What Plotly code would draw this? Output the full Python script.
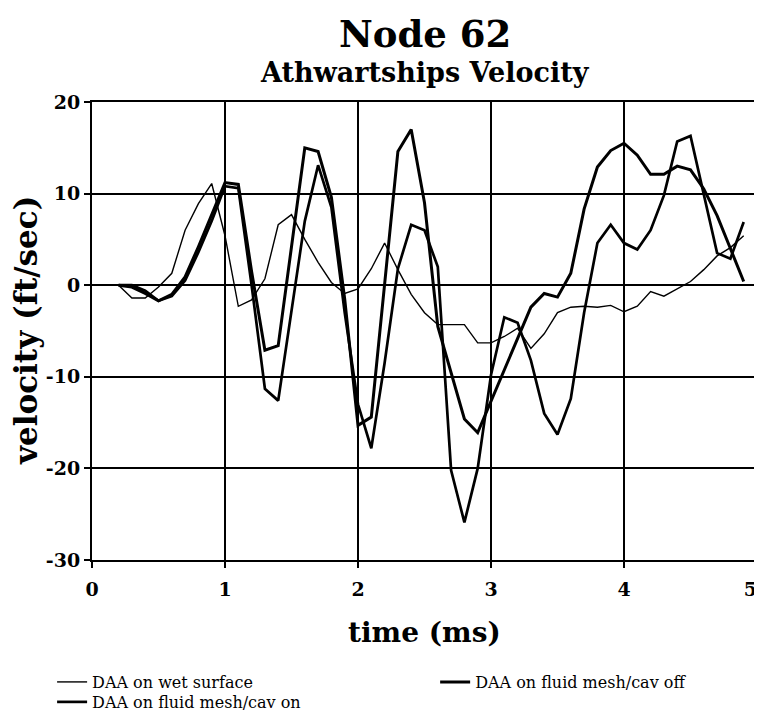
import plotly.graph_objects as go

time_ms = [0.2, 0.3, 0.4, 0.5, 0.6, 0.7, 0.8, 0.9, 1.0, 1.1, 1.2, 1.3, 1.4, 1.5, 1.6, 1.7,
           1.8, 1.9, 2.0, 2.1, 2.2, 2.3, 2.4, 2.5, 2.6, 2.7, 2.8, 2.9, 3.0, 3.1, 3.2, 3.3,
           3.4, 3.5, 3.6, 3.7, 3.8, 3.9, 4.0, 4.1, 4.2, 4.3, 4.4, 4.5, 4.6, 4.7, 4.8, 4.9]

wet_surface = [0.0, -1.4, -1.4, -0.2, 1.3, 6.0, 8.9, 11.1, 5.4, -2.3, -1.6, 0.7, 6.6, 7.7, 5.0, 2.5,
               0.3, -0.9, -0.4, 1.8, 4.6, 1.7, -1.0, -3.0, -4.3, -4.3, -4.3, -6.3, -6.3, -5.6, -4.7, -6.9,
               -5.3, -3.0, -2.4, -2.3, -2.4, -2.2, -2.9, -2.3, -0.7, -1.2, -0.4, 0.4, 1.7, 3.2, 4.1, 5.4]

cav_off = [0.0, -0.2, -0.9, -1.7, -1.0, 0.9, 4.2, 7.8, 11.2, 11.0, 1.5, -7.1, -6.6, 4.2, 15.0, 14.6,
           9.6, -1.5, -15.3, -14.4, 0.0, 14.6, 17.0, 9.0, -4.5, -9.6, -14.6, -16.1, -12.7, -9.2, -5.8, -2.4,
           -0.9, -1.3, 1.3, 8.3, 12.9, 14.7, 15.5, 14.2, 12.1, 12.1, 13.0, 12.6, 10.5, 7.6, 4.0, 0.4]

cav_on = [0.0, 0.0, -0.6, -1.7, -1.2, 0.5, 3.6, 7.0, 10.8, 10.6, 0.0, -11.3, -12.6, -3.0, 7.0, 13.1,
          8.5, -3.0, -13.0, -17.8, -8.5, 1.8, 6.6, 6.0, 2.0, -20.2, -25.9, -20.0, -9.8, -3.5, -4.1, -8.2,
          -14.0, -16.3, -12.4, -3.0, 4.6, 6.6, 4.6, 3.9, 6.0, 9.8, 15.7, 16.3, 10.0, 3.5, 2.9, 6.9]

x_ticks = [0, 1, 2, 3, 4, 5]
x_tick_labels = ["0", "1", "2", "3", "4", "5\u00a0\u00a0"]
y_ticks = [-30, -20, -10, 0, 10, 20]

SERIF = "DejaVu Serif, Liberation Serif, serif"
LEG_FONT = dict(family=SERIF, size=16, color="black")

fig = go.Figure()
fig.add_trace(go.Scatter(x=time_ms, y=wet_surface, mode="lines", name="DAA on wet surface",
                         line=dict(color="black", width=1.4), legend="legend"))
fig.add_trace(go.Scatter(x=time_ms, y=cav_off, mode="lines", name="DAA on fluid mesh/cav off",
                         line=dict(color="black", width=3), legend="legend2"))
fig.add_trace(go.Scatter(x=time_ms, y=cav_on, mode="lines", name="DAA on fluid mesh/cav on",
                         line=dict(color="black", width=2.7), legend="legend3"))

axis_common = dict(showgrid=True, gridcolor="black", gridwidth=1.5,
                   showline=True, linecolor="black", linewidth=2, mirror=True,
                   ticks="outside", ticklen=6, tickcolor="black", tickwidth=1.5,
                   ticklabeloverflow="allow",
                   tickfont=dict(family=SERIF, size=19, color="black"), zeroline=False)

leg_common = dict(orientation="v", xanchor="left", yanchor="middle", font=LEG_FONT,
                  tracegroupgap=0, bgcolor="rgba(0,0,0,0)", borderwidth=0)

fig.update_layout(
    width=754, height=703,
    margin=dict(l=84, r=5, t=94, b=151, autoexpand=False),
    paper_bgcolor="white", plot_bgcolor="white",
    font=dict(family=SERIF, color="black"),
    showlegend=True,
    legend=dict(x=-0.060, y=-0.2664, **leg_common),
    legend2=dict(x=0.516, y=-0.2664, **leg_common),
    legend3=dict(x=-0.060, y=-0.3100, **leg_common),
    xaxis=dict(range=[0, 5], tickvals=x_ticks, ticktext=["<b>%s</b>" % t for t in x_tick_labels],
               ticklabelstandoff=5, **axis_common),
    yaxis=dict(range=[-30, 20], tickvals=y_ticks, ticktext=["<b>%d</b>" % v for v in y_ticks],
               **axis_common),
    annotations=[
        dict(text="<b>Node 62</b>", xref="paper", yref="paper", x=0.5, y=1,
             xanchor="center", yanchor="middle", yshift=68, showarrow=False,
             font=dict(family=SERIF, size=37, color="black")),
        dict(text="<b>Athwartships Velocity</b>", xref="paper", yref="paper", x=0.5, y=1,
             xanchor="center", yanchor="middle", yshift=30, showarrow=False,
             font=dict(family=SERIF, size=27, color="black")),
        dict(text="<b>velocity (ft/sec)</b>", xref="paper", yref="paper", x=0, y=0.5,
             xanchor="center", yanchor="middle", xshift=-66, textangle=-90, showarrow=False,
             font=dict(family=SERIF, size=31, color="black")),
        dict(text="<b>time (ms)</b>", xref="paper", yref="paper", x=0.5, y=0,
             xanchor="center", yanchor="middle", yshift=-72, showarrow=False,
             font=dict(family=SERIF, size=28, color="black")),
    ],
)

fig.write_html("out.html")
